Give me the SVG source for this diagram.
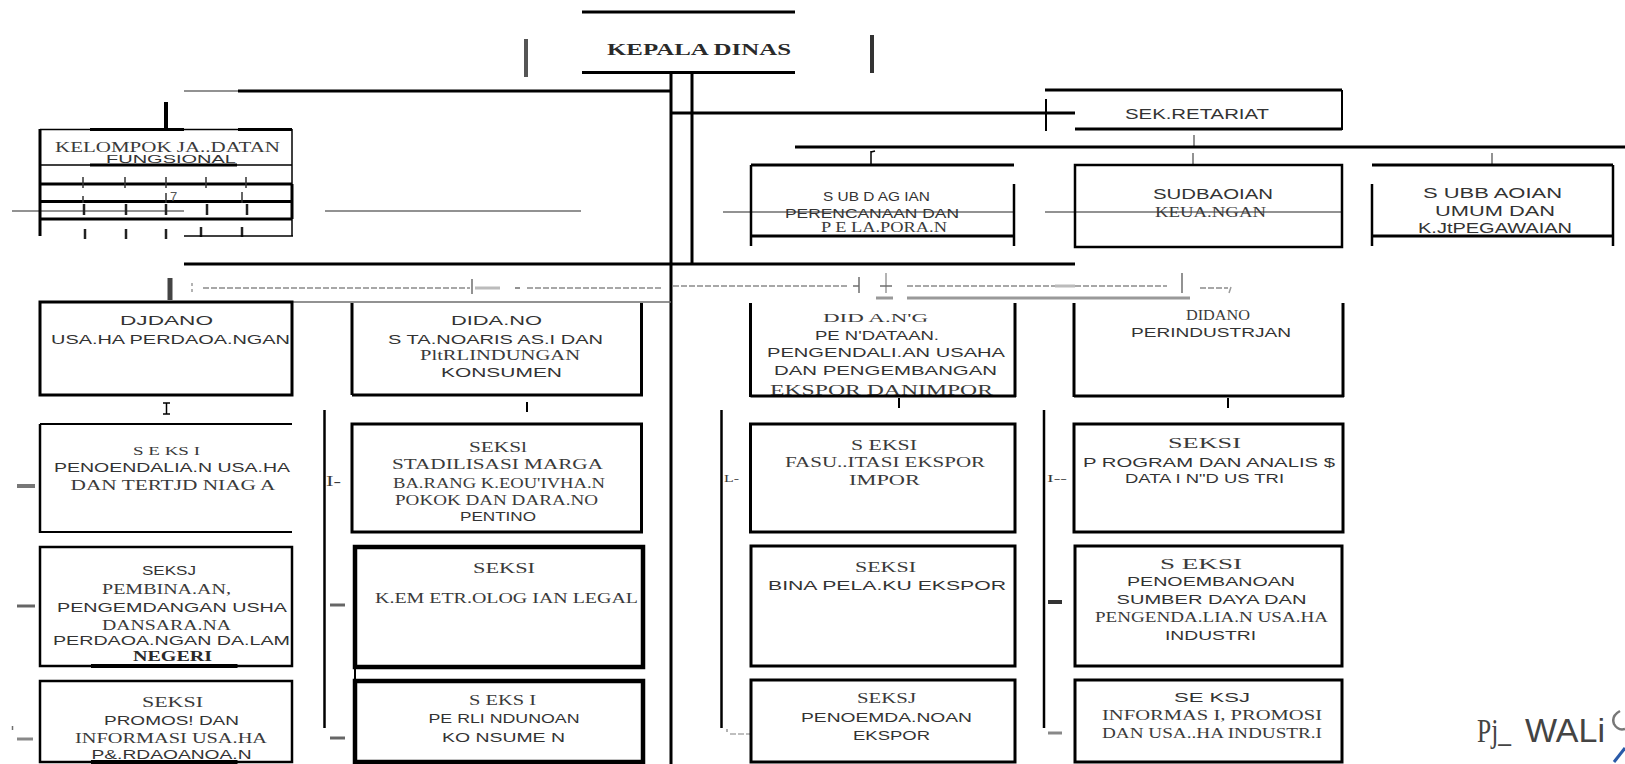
<svg xmlns="http://www.w3.org/2000/svg" width="1625" height="764" viewBox="0 0 1625 764">
<style>
.k{stroke:#000;fill:none;stroke-linecap:butt}
.w1{stroke-width:1.5}.w2{stroke-width:2}.w25{stroke-width:2.5}.w3{stroke-width:3}.w4{stroke-width:4}.w45{stroke-width:4.5}
.g{stroke:#6e6e6e;fill:none}
.lg{stroke:#9a9a9a;fill:none}
.dash{stroke:#8a8a8a;stroke-width:1.5;stroke-dasharray:6 2;fill:none}
text{fill:#333}
.s{font-family:"Liberation Sans",Arial,sans-serif;font-size:13.5px}
.r{font-family:"Liberation Serif","Times New Roman",serif;font-size:14px;fill:#3a3a3a}
.rb{font-family:"Liberation Serif","Times New Roman",serif;font-size:16px;font-weight:bold;fill:#2a2a2a}
</style>

<g id="connectors">
  <line class="k w3" x1="671" y1="73" x2="671" y2="764"/>
  <line class="k w3" x1="692" y1="73" x2="692" y2="265"/>
  <line class="g w1" x1="184" y1="91" x2="238" y2="91"/>
  <line class="k w3" x1="238" y1="91" x2="671" y2="91"/>
  <line class="k w3" x1="671" y1="113" x2="1075" y2="113"/>
  <line class="k w2" x1="1046" y1="99" x2="1046" y2="131"/>
  <line class="g w1" x1="1194" y1="135" x2="1194" y2="147"/>
  <line class="k w3" x1="795" y1="147" x2="1625" y2="147"/>
  <line class="k w1" x1="871" y1="151" x2="871" y2="164"/>
  <line class="k w1" x1="871" y1="152" x2="875" y2="151"/>
  <line class="g w1" x1="1193" y1="153" x2="1193" y2="164"/>
  <line class="g w1" x1="1492" y1="153" x2="1492" y2="164"/>
  <line class="k w4" x1="166" y1="102" x2="166" y2="130"/>
  <line class="g w1" x1="12" y1="211" x2="184" y2="211"/>
  <line class="g w1" x1="325" y1="211" x2="581" y2="211"/>
  <line class="g w1" x1="723" y1="212" x2="1014" y2="212"/>
  <line class="g w1" x1="1045" y1="212" x2="1342" y2="212"/>
  <line class="k w3" x1="184" y1="264" x2="1075" y2="264"/>
  <!-- dashed scan line -->
  <line x1="170" y1="278" x2="170" y2="300" stroke="#444" stroke-width="5"/>
  <line class="lg w1" x1="192" y1="283" x2="192" y2="286"/>
  <line class="lg w1" x1="192" y1="289" x2="192" y2="292"/>
  <line class="dash" x1="203" y1="288" x2="470" y2="288"/>
  <line class="g w1" x1="472" y1="279" x2="472" y2="294"/>
  <line x1="475" y1="288" x2="500" y2="288" stroke="#bbb" stroke-width="3"/>
  <line class="g w1" x1="515" y1="288" x2="520" y2="288"/>
  <line class="dash" x1="527" y1="288" x2="663" y2="288"/>
  <line class="dash" x1="673" y1="286" x2="847" y2="286"/>
  <line class="g w1" x1="859" y1="277" x2="859" y2="293"/>
  <line class="g w1" x1="853" y1="286" x2="859" y2="286"/>
  <line class="lg w1" x1="886" y1="273" x2="886" y2="293"/>
  <line class="g w1" x1="880" y1="286" x2="892" y2="286"/>
  <line x1="876" y1="298" x2="893" y2="298" stroke="#999" stroke-width="3"/>
  <line class="dash" x1="907" y1="286" x2="1167" y2="286"/>
  <line x1="1055" y1="286" x2="1075" y2="286" stroke="#bbb" stroke-width="3"/>
  <line x1="907" y1="298" x2="1190" y2="298" stroke="#999" stroke-width="3"/>
  <line class="g w1" x1="1182" y1="273" x2="1182" y2="293"/>
  <line class="dash" x1="1200" y1="288" x2="1228" y2="288"/>
  <line class="lg w1" x1="1231" y1="287" x2="1229" y2="293"/>
  <line class="g w1" x1="292" y1="302" x2="671" y2="302"/>
  <!-- drops below bidang boxes -->
  <line class="k w1" x1="166.5" y1="403" x2="166.5" y2="414"/>
  <line class="k w1" x1="163" y1="403" x2="170" y2="403"/>
  <line class="k w1" x1="163" y1="414" x2="170" y2="414"/>
  <line class="k w2" x1="527" y1="402" x2="527" y2="412"/>
  <line class="k w2" x1="899" y1="398" x2="899" y2="408"/>
  <line class="k w2" x1="1228" y1="398" x2="1228" y2="408"/>
  <!-- seksi column verticals -->
  <line class="k w25" x1="324.5" y1="410" x2="324.5" y2="728"/>
  <line class="k w25" x1="721.5" y1="410" x2="721.5" y2="728"/>
  <line class="k w25" x1="1044" y1="410" x2="1044" y2="728"/>
  <line class="k w2" x1="355" y1="667" x2="355" y2="681"/>
  <line x1="730" y1="734" x2="752" y2="734" stroke="#aaa" stroke-width="1.5" stroke-dasharray="6 2"/>
  <line class="lg w1" x1="727" y1="729" x2="727" y2="732"/>
  <!-- small side dashes -->
  <line x1="17" y1="486" x2="35" y2="486" stroke="#777" stroke-width="4"/>
  <line x1="17" y1="606" x2="35" y2="606" stroke="#666" stroke-width="3"/>
  <line x1="17" y1="739" x2="33" y2="739" stroke="#888" stroke-width="3"/>
  <line class="g w1" x1="12.5" y1="726" x2="12.5" y2="730"/>
  <line x1="330" y1="605" x2="345" y2="605" stroke="#666" stroke-width="3"/>
  <line x1="330" y1="738" x2="345" y2="738" stroke="#666" stroke-width="3"/>
  <line x1="1048" y1="602" x2="1062" y2="602" stroke="#333" stroke-width="4"/>
  <line x1="1048" y1="733" x2="1062" y2="733" stroke="#888" stroke-width="3"/>
  <text class="r" x="326" y="486" textLength="15" lengthAdjust="spacingAndGlyphs" font-size="13">I-</text>
  <text class="r" x="724" y="482" textLength="15" lengthAdjust="spacingAndGlyphs" style="font-size:11px">L-</text>
  <text class="r" x="1047" y="482" textLength="20" lengthAdjust="spacingAndGlyphs" style="font-size:11px">I--</text>
</g>

<g id="kepala-dinas">
  <line class="k w3" x1="582" y1="12" x2="795" y2="12"/>
  <line class="k w3" x1="582" y1="72.5" x2="795" y2="72.5"/>
  <line x1="526" y1="39" x2="526" y2="77" stroke="#555" stroke-width="4"/>
  <line x1="872" y1="35" x2="872" y2="73" stroke="#333" stroke-width="4"/>
  <text class="rb" x="607" y="55" textLength="184" lengthAdjust="spacingAndGlyphs">KEPALA DINAS</text>
</g>

<g id="sekretariat">
  <line class="k w3" x1="1045" y1="90" x2="1342" y2="90"/>
  <line class="k w2" x1="1342" y1="90" x2="1342" y2="130"/>
  <line class="k w3" x1="1075" y1="129" x2="1342" y2="129"/>
  <text class="s" x="1125" y="119" textLength="144" lengthAdjust="spacingAndGlyphs" style="font-size:15px">SEK.RETARIAT</text>
</g>

<g id="kelompok-jabatan-fungsional">
  <line class="k w1" x1="40" y1="129.5" x2="292" y2="129.5"/>
  <line class="k w3" x1="90" y1="129.5" x2="184" y2="129.5"/>
  <line class="k w3" x1="238" y1="129.5" x2="292" y2="129.5"/>
  <line class="k w3" x1="40" y1="129" x2="40" y2="236"/>
  <line class="k w1" x1="292" y1="129" x2="292" y2="236"/>
  <line class="k w3" x1="292" y1="184" x2="292" y2="219"/>
  <text class="r" x="55" y="152" textLength="225" lengthAdjust="spacingAndGlyphs" style="font-size:14.5px">KELOMPOK JA..DATAN</text>
  <text class="s" x="106" y="162.5" textLength="130" lengthAdjust="spacingAndGlyphs" style="font-size:11.5px">FUNGSIONAL</text>
  <line class="k w1" x1="40" y1="165" x2="292" y2="165"/>
  <line class="k w3" x1="90" y1="165" x2="237" y2="165"/>
  <line class="k w3" x1="40" y1="184" x2="292" y2="184"/>
  <line class="k w3" x1="40" y1="201.5" x2="292" y2="201.5"/>
  <line class="k w3" x1="40" y1="219" x2="292" y2="219"/>
  <g stroke="#333" stroke-width="1.5">
    <line x1="83" y1="177" x2="83" y2="188"/><line x1="125" y1="177" x2="125" y2="188"/><line x1="166" y1="177" x2="166" y2="188"/><line x1="206" y1="177" x2="206" y2="188"/><line x1="246" y1="177" x2="246" y2="188"/>
    <line x1="83" y1="196" x2="83" y2="203"/><line x1="166" y1="193" x2="166" y2="203"/><line x1="242" y1="192" x2="242" y2="203"/>
  </g>
  <text class="s" x="170" y="201" style="font-size:13px;fill:#555">7</text>
  <g stroke="#222" stroke-width="2.5">
    <line x1="84" y1="204" x2="84" y2="215"/><line x1="126" y1="204" x2="126" y2="215"/><line x1="166" y1="204" x2="166" y2="215"/><line x1="207" y1="204" x2="207" y2="215"/><line x1="247" y1="204" x2="247" y2="215"/>
    <line x1="85" y1="229" x2="85" y2="239"/><line x1="126" y1="229" x2="126" y2="239"/><line x1="166" y1="229" x2="166" y2="239"/><line x1="201" y1="227" x2="201" y2="237"/><line x1="242" y1="227" x2="242" y2="237"/>
  </g>
  <line class="k w1" x1="184" y1="236" x2="293" y2="236"/>
</g>

<g id="subbag-perencanaan">
  <line class="k w3" x1="751" y1="165" x2="1014" y2="165"/>
  <line class="k w25" x1="751" y1="165" x2="751" y2="246"/>
  <line class="k w25" x1="1014" y1="184" x2="1014" y2="246"/>
  <line class="k w3" x1="751" y1="236" x2="1014" y2="236"/>
  <text class="s" x="823" y="201" textLength="107" lengthAdjust="spacingAndGlyphs">S UB D AG IAN</text>
  <text class="s" x="785" y="218" textLength="174" lengthAdjust="spacingAndGlyphs">PERENCANAAN DAN</text>
  <text class="r" x="821" y="232" textLength="126" lengthAdjust="spacingAndGlyphs">P E LA.PORA.N</text>
</g>

<g id="subbag-keuangan">
  <rect class="k w25" x="1075" y="165" width="267" height="82"/>
  <text class="s" x="1153" y="199" textLength="120" lengthAdjust="spacingAndGlyphs" style="font-size:14px">SUDBAOIAN</text>
  <text class="r" x="1155" y="217" textLength="111" lengthAdjust="spacingAndGlyphs">KEUA.NGAN</text>
</g>

<g id="subbag-umum">
  <line class="k w3" x1="1372" y1="165" x2="1613" y2="165"/>
  <line class="k w25" x1="1613" y1="165" x2="1613" y2="246"/>
  <line class="k w25" x1="1372" y1="184" x2="1372" y2="246"/>
  <line class="k w3" x1="1372" y1="236" x2="1613" y2="236"/>
  <text class="s" x="1423" y="198" textLength="139" lengthAdjust="spacingAndGlyphs" style="font-size:14px">S UBB AOIAN</text>
  <text class="s" x="1435" y="216" textLength="120" lengthAdjust="spacingAndGlyphs" style="font-size:14px">UMUM DAN</text>
  <text class="s" x="1418" y="233" textLength="154" lengthAdjust="spacingAndGlyphs" style="font-size:14px">K.JtPEGAWAIAN</text>
</g>

<g id="bidang-usaha-perdagangan">
  <rect class="k w3" x="40" y="302" width="252" height="93"/>
  <text class="s" x="120" y="325" textLength="93" lengthAdjust="spacingAndGlyphs">DJDANO</text>
  <text class="s" x="51" y="344" textLength="239" lengthAdjust="spacingAndGlyphs">USA.HA PERDAOA.NGAN</text>
</g>

<g id="bidang-standarisasi">
  <line class="k w3" x1="352" y1="303" x2="352" y2="395"/>
  <line class="k w3" x1="641.5" y1="303" x2="641.5" y2="396"/>
  <line class="k w3" x1="352" y1="395" x2="643" y2="395"/>
  <text class="s" x="451" y="325" textLength="91" lengthAdjust="spacingAndGlyphs">DIDA.NO</text>
  <text class="s" x="388" y="344" textLength="215" lengthAdjust="spacingAndGlyphs">S TA.NOARIS AS.I DAN</text>
  <text class="r" x="420" y="360" textLength="160" lengthAdjust="spacingAndGlyphs">PltRLINDUNGAN</text>
  <text class="s" x="441" y="377" textLength="121" lengthAdjust="spacingAndGlyphs">KONSUMEN</text>
</g>

<g id="bidang-pendataan">
  <text class="r" x="823" y="322" textLength="105" lengthAdjust="spacingAndGlyphs" style="font-size:12.5px">DID A.N'G</text>
  <text class="s" x="815" y="340" textLength="124" lengthAdjust="spacingAndGlyphs">PE N'DATAAN.</text>
  <text class="s" x="767" y="357" textLength="238" lengthAdjust="spacingAndGlyphs">PENGENDALI.AN USAHA</text>
  <text class="s" x="774" y="375" textLength="223" lengthAdjust="spacingAndGlyphs">DAN PENGEMBANGAN</text>
  <text class="r" x="770" y="395" textLength="223" lengthAdjust="spacingAndGlyphs">EKSPOR DANIMPOR</text>
  <line class="k w3" x1="750.5" y1="303" x2="750.5" y2="397"/>
  <line class="k w3" x1="1015" y1="303" x2="1015" y2="397"/>
  <line class="k w3" x1="750.5" y1="396" x2="1016" y2="396"/>
</g>

<g id="bidang-perindustrian">
  <line class="k w3" x1="1074" y1="303" x2="1074" y2="397"/>
  <line class="k w3" x1="1343" y1="303" x2="1343" y2="397"/>
  <line class="k w3" x1="1074" y1="396" x2="1344" y2="396"/>
  <text class="r" x="1186" y="320" textLength="64" lengthAdjust="spacingAndGlyphs">DIDANO</text>
  <text class="s" x="1131" y="337" textLength="160" lengthAdjust="spacingAndGlyphs">PERINDUSTRJAN</text>
</g>

<g id="seksi-pengendalian-usaha">
  <line class="k w2" x1="40" y1="424" x2="292" y2="424"/>
  <line class="k w25" x1="40" y1="424" x2="40" y2="533"/>
  <line class="k w2" x1="40" y1="532" x2="292" y2="532"/>
  <text class="r" x="133" y="455" textLength="67" lengthAdjust="spacingAndGlyphs" style="font-size:12px">S E KS I</text>
  <text class="s" x="54" y="472" textLength="236" lengthAdjust="spacingAndGlyphs">PENOENDALIA.N USA.HA</text>
  <text class="r" x="70.5" y="490" textLength="205" lengthAdjust="spacingAndGlyphs">DAN TERTJD NIAG A</text>
</g>

<g id="seksi-pembinaan">
  <rect class="k w25" x="40" y="547" width="252" height="119"/>
  <line class="k w4" x1="91" y1="666" x2="237.5" y2="666"/>
  <text class="s" x="142" y="575" textLength="54" lengthAdjust="spacingAndGlyphs">SEKSJ</text>
  <text class="r" x="102" y="594" textLength="129" lengthAdjust="spacingAndGlyphs">PEMBINA.AN,</text>
  <text class="s" x="57" y="612" textLength="230" lengthAdjust="spacingAndGlyphs">PENGEMDANGAN USHA</text>
  <text class="r" x="102" y="630" textLength="129" lengthAdjust="spacingAndGlyphs">DANSARA.NA</text>
  <text class="s" x="53" y="645" textLength="237" lengthAdjust="spacingAndGlyphs">PERDAOA.NGAN DA.LAM</text>
  <text class="rb" x="133" y="661" textLength="79" lengthAdjust="spacingAndGlyphs" style="font-size:14px">NEGERI</text>
</g>

<g id="seksi-promosi">
  <rect class="k w25" x="40" y="681" width="252" height="81"/>
  <line class="k w4" x1="91" y1="762" x2="237.5" y2="762"/>
  <text class="r" x="142" y="707" textLength="61" lengthAdjust="spacingAndGlyphs">SEKSI</text>
  <text class="s" x="104" y="725" textLength="135" lengthAdjust="spacingAndGlyphs">PROMOS! DAN</text>
  <text class="r" x="75" y="743" textLength="192" lengthAdjust="spacingAndGlyphs">INFORMASI USA.HA</text>
  <text class="s" x="91.5" y="759" textLength="160" lengthAdjust="spacingAndGlyphs">P&amp;.RDAOANOA.N</text>
</g>

<g id="seksi-stabilisasi">
  <rect class="k w3" x="352" y="424" width="289.5" height="108"/>
  <text class="r" x="469" y="452" textLength="58" lengthAdjust="spacingAndGlyphs">SEKSl</text>
  <text class="r" x="392" y="469" textLength="211" lengthAdjust="spacingAndGlyphs">STADILISASI MARGA</text>
  <text class="r" x="393" y="488" textLength="212" lengthAdjust="spacingAndGlyphs">BA.RANG K.EOU'IVHA.N</text>
  <text class="r" x="395" y="505" textLength="203" lengthAdjust="spacingAndGlyphs">POKOK DAN DARA.NO</text>
  <text class="s" x="460" y="521" textLength="76" lengthAdjust="spacingAndGlyphs">PENTINO</text>
</g>

<g id="seksi-kemetrologian">
  <rect class="k w45" x="355" y="547" width="288" height="120"/>
  <text class="r" x="473" y="573" textLength="62" lengthAdjust="spacingAndGlyphs">SEKSI</text>
  <text class="r" x="375" y="603" textLength="263" lengthAdjust="spacingAndGlyphs">K.EM ETR.OLOG IAN LEGAL</text>
</g>

<g id="seksi-perlindungan">
  <rect class="k w45" x="355" y="681" width="288" height="81"/>
  <text class="r" x="469" y="705" textLength="67" lengthAdjust="spacingAndGlyphs">S EKS I</text>
  <text class="s" x="428.5" y="723" textLength="151" lengthAdjust="spacingAndGlyphs">PE RLI NDUNOAN</text>
  <text class="s" x="442" y="742" textLength="123" lengthAdjust="spacingAndGlyphs">KO NSUME N</text>
</g>

<g id="seksi-fasilitasi">
  <rect class="k w3" x="750.5" y="424" width="264.5" height="108"/>
  <text class="r" x="851" y="450" textLength="66" lengthAdjust="spacingAndGlyphs">S EKSI</text>
  <text class="r" x="785" y="467" textLength="200" lengthAdjust="spacingAndGlyphs">FASU..ITASI EKSPOR</text>
  <text class="r" x="849" y="485" textLength="71" lengthAdjust="spacingAndGlyphs">IMPOR</text>
</g>

<g id="seksi-bina-pelaku">
  <rect class="k w3" x="751" y="546" width="264" height="120"/>
  <text class="r" x="855" y="572" textLength="61" lengthAdjust="spacingAndGlyphs">SEKSI</text>
  <text class="s" x="768" y="590" textLength="238" lengthAdjust="spacingAndGlyphs">BINA PELA.KU EKSPOR</text>
</g>

<g id="seksi-pengembangan-ekspor">
  <rect class="k w3" x="751" y="680" width="264" height="82"/>
  <text class="r" x="857" y="703" textLength="59" lengthAdjust="spacingAndGlyphs">SEKSJ</text>
  <text class="s" x="801" y="722" textLength="171" lengthAdjust="spacingAndGlyphs">PENOEMDA.NOAN</text>
  <text class="s" x="853" y="740" textLength="77" lengthAdjust="spacingAndGlyphs">EKSPOR</text>
</g>

<g id="seksi-program">
  <rect class="k w3" x="1074" y="424" width="269" height="108"/>
  <text class="r" x="1168" y="448" textLength="73" lengthAdjust="spacingAndGlyphs">SEKSI</text>
  <text class="s" x="1083" y="467" textLength="252" lengthAdjust="spacingAndGlyphs">P ROGRAM DAN ANALIS $</text>
  <text class="s" x="1125" y="483" textLength="159" lengthAdjust="spacingAndGlyphs">DATA I N"D US TRI</text>
</g>

<g id="seksi-pengembangan-sdm">
  <rect class="k w3" x="1075" y="546" width="267" height="120"/>
  <text class="r" x="1160" y="569" textLength="82" lengthAdjust="spacingAndGlyphs">S EKSI</text>
  <text class="s" x="1127" y="586" textLength="168" lengthAdjust="spacingAndGlyphs">PENOEMBANOAN</text>
  <text class="s" x="1116.5" y="604" textLength="190" lengthAdjust="spacingAndGlyphs">SUMBER DAYA DAN</text>
  <text class="r" x="1095" y="622" textLength="233" lengthAdjust="spacingAndGlyphs">PENGENDA.LIA.N USA.HA</text>
  <text class="s" x="1165" y="640" textLength="91" lengthAdjust="spacingAndGlyphs">INDUSTRI</text>
</g>

<g id="seksi-informasi">
  <rect class="k w3" x="1075" y="680" width="267" height="82"/>
  <text class="s" x="1174" y="702" textLength="76" lengthAdjust="spacingAndGlyphs">SE KSJ</text>
  <text class="r" x="1102" y="720" textLength="220" lengthAdjust="spacingAndGlyphs">INFORMAS I, PROMOSI</text>
  <text class="r" x="1102" y="738" textLength="220" lengthAdjust="spacingAndGlyphs">DAN USA..HA INDUSTR.I</text>
</g>

<g id="pj-wali">
  <text x="1477" y="742" textLength="34" lengthAdjust="spacingAndGlyphs" style="font-family:'Liberation Serif',serif;font-size:34px;fill:#444">Pj_</text>
  <text x="1525" y="742" textLength="80" lengthAdjust="spacingAndGlyphs" style="font-family:'Liberation Sans',sans-serif;font-size:34px;fill:#444">WALi</text>
  <path d="M1620 711 Q1611 716 1614 724 Q1618 731 1625 729" fill="none" stroke="#777" stroke-width="2.5"/>
  <path d="M1614 762 L1625 748" fill="none" stroke="#2a5aa8" stroke-width="3"/>
</g>
</svg>
